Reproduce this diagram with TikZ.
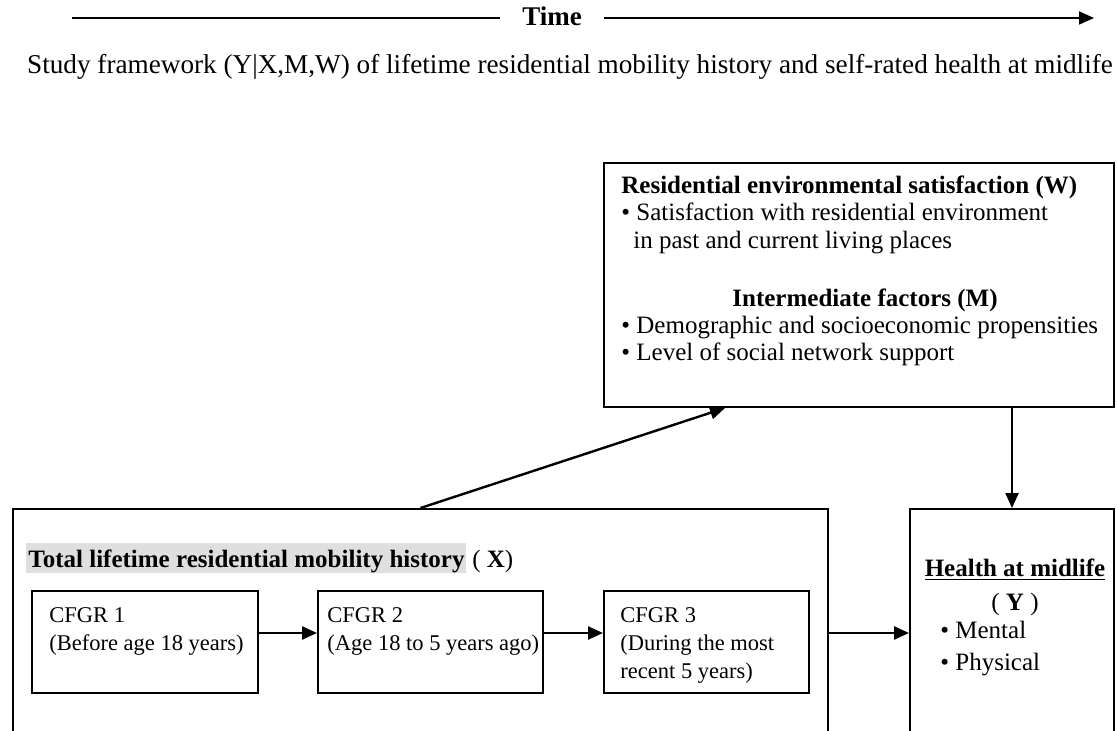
\documentclass[tikz,border=0pt]{standalone}
\usepackage{fontspec}
\setmainfont{Liberation Serif}
\usetikzlibrary{arrows.meta}

% fixed height of the first line, so text tops are predictable
\newcommand{\tp}{\rule{0pt}{9pt}}

\tikzset{
  box/.style={draw, line width=1pt, inner sep=0pt, anchor=north west},
  txt/.style={inner sep=0pt, anchor=north west, align=left},
  small/.style={font=\fontsize{11.25}{14}\selectfont},
  arr/.style={-{Triangle[length=7.5pt,width=6.5pt]}, line width=1.2pt},
}

\begin{document}
\begin{tikzpicture}[x=0.5pt,y=-0.5pt,font=\fontsize{12.5}{13.75}\selectfont]
\clip (0,0) rectangle (1117,731);

% time line
\node[anchor=base, inner sep=0pt, font=\fontsize{13.5}{16}\selectfont\bfseries] (time) at (552,26) {Time};
\coordinate (tstart) at (72,18);
\coordinate (tend) at (1094,18);
\draw[line width=0.9pt] (tstart) -- ([xshift=-11pt]tstart -| time.west);
\draw[arr, line width=0.9pt] ([xshift=11pt]tend -| time.east) -- (tend);

\node[anchor=base, inner sep=0pt, font=\fontsize{13.6}{16}\selectfont] (caption) at (570,74) {Study framework (Y|X,M,W) of lifetime residential mobility history and self-rated health at midlife};

% W and M
\node[box, minimum width=255pt, minimum height=122pt] (wm) at (603,162) {};
\node[txt] (wtext) at (621,175) {\tp\textbf{Residential environmental satisfaction (W)}\\
  \textbullet{} Satisfaction with residential environment\\
  \hspace*{6pt}in past and current living places};
\node[txt, anchor=north] (mtitle) at (865,288) {\tp\textbf{Intermediate factors (M)}};
\node[txt] (mtext) at (621,315) {\tp\textbullet{} Demographic and socioeconomic propensities\\
  \textbullet{} Level of social network support};

% X
\node[box, minimum width=407.5pt, minimum height=124pt] (xbox) at (12,508) {};
\node[anchor=base west, inner xsep=1pt, inner ysep=0pt, text height=12pt, text depth=3pt, fill=gray!25] (xtitle) at (26,567) {\textbf{Total lifetime residential mobility history}};
\node[anchor=base west, inner sep=0pt] (xlabel) at ([xshift=2.5pt]xtitle.base east) {( \textbf{X})};

\node[box, minimum width=113pt, minimum height=51pt] (c1) at (31,590) {};
\node[box, minimum width=112.5pt, minimum height=51pt] (c2) at (317,590) {};
\node[box, minimum width=102.5pt, minimum height=51pt] (c3) at (603,590) {};
\node[txt, small] (c1text) at ([xshift=9pt,yshift=-7pt]c1.north west) {\tp CFGR 1\\(Before age 18 years)};
\node[txt, small] (c2text) at ([xshift=5pt,yshift=-7pt]c2.north west) {\tp CFGR 2\\(Age 18 to 5 years ago)};
\node[txt, small] (c3text) at ([xshift=8.5pt,yshift=-7pt]c3.north west) {\tp CFGR 3\\(During the most\\recent 5 years)};

% Y
\node[box, minimum width=102pt, minimum height=124pt] (ybox) at (909,508) {};
\node[txt, anchor=north, align=center] (ytitle) at (1015,558) {\tp\underline{\textbf{Health at midlife}}\\[3.25pt]( \textbf{Y} )};
\node[txt] (ylist) at (940,620) {\tp\textbullet{} Mental\\[2.25pt]\textbullet{} Physical};

% arrows
\draw[arr] (xbox.north) -- ([xshift=61pt]wm.south west);
\draw[arr] (wm.south -| ybox.north) -- (ybox.north);
\draw[arr] ([yshift=4.5pt]c1.east) -- ([yshift=4.5pt]c2.west);
\draw[arr] ([yshift=4.5pt]c2.east) -- ([yshift=4.5pt]c3.west);
\draw[arr] (xbox.east) -- (ybox.west);
\end{tikzpicture}
\end{document}
